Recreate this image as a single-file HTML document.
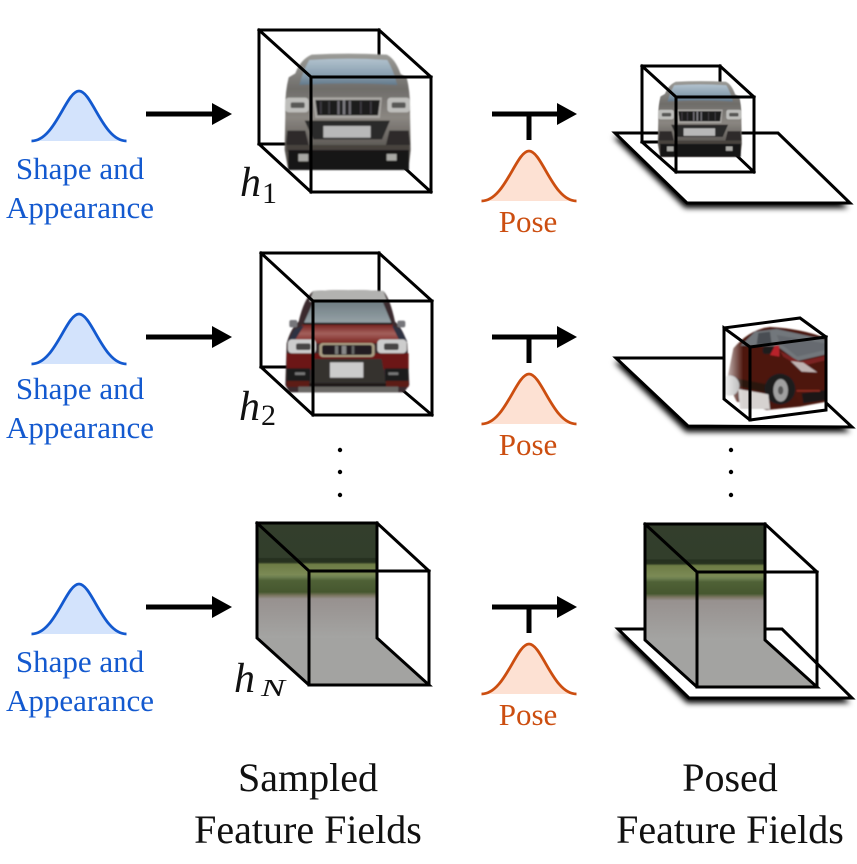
<!DOCTYPE html>
<html>
<head>
<meta charset="utf-8">
<style>
html,body{margin:0;padding:0;background:#fff;}
svg{display:block;}
text{font-family:"Liberation Serif",serif;}
.b{fill:#1359cf;font-size:31px;text-anchor:middle;}
.o{fill:#cc4e10;font-size:31px;text-anchor:middle;}
.k{fill:#111;font-size:40px;text-anchor:middle;}
.h{fill:#111;font-size:42px;font-style:italic;}
.s{fill:#111;font-size:30px;}
.l{fill:none;stroke:#000;stroke-width:3;stroke-linejoin:miter;stroke-linecap:square;}
</style>
</head>
<body>
<svg width="857" height="864" viewBox="0 0 857 864" xmlns="http://www.w3.org/2000/svg">
<defs>
<filter id="bl" x="-10%" y="-10%" width="120%" height="120%"><feGaussianBlur stdDeviation="2.6"/></filter>
<filter id="sh" x="-15%" y="-25%" width="130%" height="150%"><feGaussianBlur stdDeviation="3"/></filter>
<linearGradient id="gl1" x1="0" y1="0" x2="0" y2="1"><stop offset="0" stop-color="#b2c2ce"/><stop offset=".6" stop-color="#8aa0b0"/><stop offset="1" stop-color="#62788a"/></linearGradient>
<linearGradient id="bd1" x1="0" y1="0" x2="0" y2="1"><stop offset="0" stop-color="#9c9c98"/><stop offset=".3" stop-color="#6f6d6a"/><stop offset=".55" stop-color="#8a8681"/><stop offset=".8" stop-color="#5d5955"/><stop offset="1" stop-color="#4c4844"/></linearGradient>
<linearGradient id="gl2" x1="0" y1="0" x2="0" y2="1"><stop offset="0" stop-color="#6f7c82"/><stop offset="1" stop-color="#98a4a9"/></linearGradient>
<linearGradient id="hd2" x1="0" y1="0" x2="0" y2="1"><stop offset="0" stop-color="#701a18"/><stop offset=".5" stop-color="#a3605c"/><stop offset="1" stop-color="#7a2420"/></linearGradient>
<linearGradient id="fd" x1="0" y1="0" x2="1" y2="0"><stop offset="0" stop-color="#fff"/><stop offset="1" stop-color="#fff" stop-opacity="0"/></linearGradient>
<linearGradient id="bg" x1="0" y1="0" x2="0" y2="1">
<stop offset="0" stop-color="#333e2c"/><stop offset=".3" stop-color="#323e2b"/><stop offset=".31" stop-color="#25301f"/><stop offset=".34" stop-color="#27321f"/><stop offset=".36" stop-color="#6d7c45"/><stop offset=".45" stop-color="#7b8a55"/><stop offset=".47" stop-color="#6d7f50"/><stop offset=".5" stop-color="#4f6136"/><stop offset=".6" stop-color="#46572f"/><stop offset=".63" stop-color="#7a7560"/><stop offset=".66" stop-color="#97918f"/><stop offset="1" stop-color="#a4a4a2"/>
</linearGradient>
<clipPath id="cc"><polygon points="724,328 800,318 826,337 826,410 750,420 724,399"/></clipPath>

<g id="gb"><path d="M-47.5,0 C-24,0 -13,-50 0,-50 C13,-50 24,0 47.5,0 Z" fill="#d3e3fc"/><path d="M-47.5,0 C-24,0 -13,-50 0,-50 C13,-50 24,0 47.5,0" fill="none" stroke="#1359cf" stroke-width="2.8"/></g>
<g id="go"><path d="M-47.5,0 C-24,0 -13,-50 0,-50 C13,-50 24,0 47.5,0 Z" fill="#fde1d3"/><path d="M-47.5,0 C-24,0 -13,-50 0,-50 C13,-50 24,0 47.5,0" fill="none" stroke="#cc4e10" stroke-width="2.8"/></g>
<g id="ar"><rect x="146" y="-2.5" width="68" height="5"/><polygon points="212,-11 232,0 212,11"/></g>
<g id="ap"><rect x="492" y="-2.5" width="67" height="5"/><rect x="526.5" y="0" width="5" height="26"/><polygon points="557,-11 577,0 557,11"/></g>

<g id="car1" filter="url(#bl)">
<path d="M95,14 Q205,8 320,14 Q345,25 362,72 L380,82 Q392,130 390,190 L392,300 L385,360 L25,360 L14,300 L16,190 Q14,130 26,82 L46,70 Q62,28 95,14Z" fill="url(#bd1)"/>
<path d="M88,30 Q205,22 322,30 Q340,60 352,105 Q205,95 58,105 Q70,60 88,30Z" fill="url(#gl1)"/>
<rect x="16" y="143" width="70" height="44" rx="10" fill="#bebebb"/><rect x="32" y="157" width="42" height="17" rx="5" fill="#595856"/>
<rect x="322" y="143" width="68" height="44" rx="10" fill="#bebebb"/><rect x="335" y="157" width="42" height="17" rx="5" fill="#595856"/>
<polygon points="98,142 306,142 300,204 106,204" fill="#a8a6a2"/>
<polygon points="106,150 300,150 294,196 112,196" fill="#1c1a1d"/>
<rect x="120" y="154" width="5" height="38" fill="#3f3d42"/><rect x="145" y="154" width="5" height="38" fill="#3f3d42"/><rect x="172" y="152" width="7" height="42" fill="#6e6c72"/><rect x="188" y="150" width="8" height="44" fill="#7c7a80"/><rect x="206" y="152" width="7" height="42" fill="#6e6c72"/><rect x="240" y="154" width="5" height="38" fill="#3f3d42"/><rect x="270" y="154" width="5" height="38" fill="#3f3d42"/>
<polygon points="74,212 330,212 306,268 100,268" fill="#2c2a29"/>
<polygon points="22,242 76,242 86,285 18,285" fill="#2d2b29"/><polygon points="328,242 386,242 390,285 318,285" fill="#2d2b29"/>
<rect x="130" y="228" width="142" height="35" fill="#b8b8b8"/>
<rect x="20" y="285" width="368" height="20" fill="#47423e"/>
<rect x="25" y="300" width="362" height="60" fill="#151312"/>
<rect x="55" y="312" width="30" height="22" fill="#a8a8a4"/><rect x="320" y="312" width="30" height="20" fill="#a8a8a4"/>
</g>

<g id="car2" filter="url(#bl)">
<path d="M100,18 Q205,12 310,18 Q330,40 345,110 Q368,130 382,175 L388,300 L372,322 L28,322 L16,300 L20,175 Q32,130 56,110 Q72,40 100,18Z" fill="#3a2c2e"/>
<rect x="28" y="105" width="24" height="22" rx="6" fill="#76767a"/><rect x="352" y="107" width="24" height="20" rx="6" fill="#76767a"/>
<path d="M100,18 Q205,12 310,18 L322,50 L88,50Z" fill="#b2b2b0"/>
<polygon points="100,50 308,50 336,118 70,118" fill="url(#gl2)"/>
<polygon points="70,116 336,116 368,175 30,175" fill="url(#hd2)"/>
<rect x="70" y="113" width="266" height="6" fill="#1f1a1c"/>
<polygon points="44,132 72,122 42,170 24,170" fill="#2e3042"/><polygon points="336,122 362,132 382,170 360,170" fill="#2e3042"/>
<rect x="24" y="163" width="84" height="42" rx="12" fill="#cdcdcd"/><rect x="48" y="175" width="44" height="20" rx="6" fill="#474545"/>
<rect x="292" y="163" width="88" height="42" rx="12" fill="#cdcdcd"/><rect x="312" y="175" width="44" height="20" rx="6" fill="#474545"/>
<rect x="20" y="205" width="366" height="48" fill="#6c1512"/>
<rect x="118" y="174" width="166" height="42" rx="10" fill="#a89d83"/><rect x="126" y="180" width="150" height="30" rx="7" fill="#211e22"/>
<rect x="165" y="182" width="10" height="26" fill="#777"/><rect x="185" y="182" width="14" height="26" fill="#888"/><rect x="215" y="182" width="8" height="26" fill="#666"/>
<polygon points="100,222 305,222 318,295 88,295" fill="#36302f"/>
<rect x="150" y="232" width="100" height="46" fill="#cbcbcb"/>
<rect x="20" y="250" width="70" height="40" fill="#1f1c1c"/><rect x="315" y="250" width="70" height="40" fill="#1f1c1c"/>
<rect x="45" y="262" width="30" height="8" fill="#777"/><rect x="325" y="262" width="30" height="8" fill="#777"/>
<rect x="20" y="288" width="68" height="18" fill="#5d1a16"/><rect x="318" y="288" width="68" height="18" fill="#5d1a16"/>
<rect x="88" y="295" width="230" height="12" fill="#1b1818"/>
<rect x="55" y="305" width="300" height="16" fill="#6b6765"/>
</g>
</defs>

<rect width="857" height="864" fill="#fff"/>

<!-- Left column -->
<use href="#gb" x="79" y="141"/>
<text class="b" x="80" y="179">Shape and</text>
<text class="b" x="80" y="218">Appearance</text>
<use href="#ar" y="114"/>

<use href="#gb" x="79" y="364"/>
<text class="b" x="80" y="399">Shape and</text>
<text class="b" x="80" y="438">Appearance</text>
<use href="#ar" y="337"/>

<use href="#gb" x="79" y="634"/>
<text class="b" x="80" y="672">Shape and</text>
<text class="b" x="80" y="711">Appearance</text>
<use href="#ar" y="607"/>

<!-- Middle -->
<use href="#ap" y="114"/><use href="#go" x="529" y="201"/><text class="o" x="528" y="232">Pose</text>
<use href="#ap" y="337"/><use href="#go" x="529" y="424"/><text class="o" x="528" y="455">Pose</text>
<use href="#ap" y="607"/><use href="#go" x="529" y="694"/><text class="o" x="528" y="725">Pose</text>

<!-- Cube 1 -->
<path class="l" d="M259,144 V30 H379 V77 M259,144 H300 M431,192 L385,150"/>
<use href="#car1" transform="translate(280,50) scale(.3333)"/>
<path class="l" d="M259,30 L311,77 H431 V192 H311 V77 M379,30 L431,77 M259,144 L311,192"/>
<text class="h" x="240" y="196">h</text><text class="s" x="262" y="203">1</text>

<!-- Cube 2 -->
<path class="l" d="M261,367 V253 H379 V301 M261,367 H300 M432,415 L400,388"/>
<use href="#car2" transform="translate(280,285) scale(.3333)"/>
<path class="l" d="M261,253 L313,301 H432 V415 H313 V301 M379,253 L432,301 M261,367 L313,415"/>
<text class="h" x="239" y="420">h</text><text class="s" x="261" y="425">2</text>

<!-- Cube N -->
<rect x="257" y="523" width="120" height="115" fill="url(#bg)"/>
<polygon points="257,638 377,638 429,685 309,685" fill="#a3a3a1"/>
<path class="l" d="M257,523 H377 V638 L429,685 H309 L257,638 Z M257,523 L309,571 H429 V685 M309,571 V685 M377,523 L429,571"/>
<text class="h" x="234" y="692">h</text><text class="s" x="261" y="696" font-style="italic" style="font-size:24px" textLength="24" lengthAdjust="spacingAndGlyphs">N</text>

<!-- Posed 1 -->
<polygon points="613,137 776,137 848,208 685,208" fill="#000" filter="url(#sh)"/>
<polygon class="l" points="615,133 778,133 850,203 687,203" style="fill:#fff"/>
<path class="l" d="M642,142 V66 H720 V97 M642,142 H665 M754,172 L735,154"/>
<use href="#car1" transform="translate(654.7,78.7) scale(.2223,.2173)"/>
<path class="l" d="M642,66 L676,97 H754 V172 H676 V97 M720,66 L754,97 M642,142 L676,172"/>

<!-- Posed 2 -->
<polygon points="614,362 776,362 850,432 686,432" fill="#000" filter="url(#sh)"/>
<polygon class="l" points="616,358 778,358 852,427 688,426" style="fill:#fff"/>
<polygon points="724,328 800,318 826,337 826,410 750,420 724,399" fill="#fff"/>
<g clip-path="url(#cc)">
<g transform="translate(720,315) scale(.3333)">
<g filter="url(#bl)">
<path d="M40,100 Q90,42 150,36 Q240,40 320,70 L320,260 L240,275 L140,285 L50,260 L20,200 Z" fill="#4a1411"/>
<polygon points="62,92 105,50 170,42 316,74 318,118 232,138 172,94" fill="#72777b"/>
<polygon points="115,54 150,50 155,88 110,88" fill="#4a4e52"/>
<polygon points="170,60 316,85 316,105 232,125 180,85" fill="#666b70"/>
<polygon points="45,100 165,100 240,145 318,122 318,250 240,262 205,205 150,205 60,190" fill="#4e1411"/>
<polygon points="180,108 240,140 318,122 318,135 240,155 190,125" fill="#7a2420"/>
<polygon points="212,138 250,143 292,172 245,170" fill="#bfb2b1"/>
<polygon points="50,190 150,210 160,238 60,215" fill="#2c1210"/>
<rect x="128" y="95" width="35" height="22" rx="8" fill="#1b1a1c"/>
<polygon points="165,92 178,92 178,125 150,120" fill="#b8202a"/>
<circle cx="180" cy="222" r="46" fill="#1e1b1b"/>
<ellipse cx="182" cy="226" rx="22" ry="34" fill="#a0a0a0"/><ellipse cx="182" cy="226" rx="8" ry="13" fill="#575757"/>
<polygon points="245,235 318,225 318,255 250,265" fill="#1f1414"/>
<rect x="230" y="225" width="70" height="5" fill="#8f2a20"/>
<polygon points="55,222 145,238 150,282 60,282" fill="#d6d2d0"/>
<circle cx="28" cy="212" r="30" fill="#b2b2b2"/>
</g>
<rect x="0" y="20" width="70" height="280" fill="url(#fd)"/>
</g>
</g>
<path class="l" d="M724,328 L750,347 L826,337 V410 L750,420 L724,399 Z M724,328 L800,318 L826,337 M750,347 V420"/>

<!-- Posed N -->
<polygon points="616,633 780,633 850,703 687,703" fill="#000" filter="url(#sh)"/>
<polygon class="l" points="618,629 782,629 852,698 689,698" style="fill:#fff"/>
<rect x="645" y="524" width="120" height="116" fill="url(#bg)"/>
<polygon points="645,640 765,640 817,687 697,687" fill="#a3a3a1"/>
<path class="l" d="M645,524 H765 V640 L817,687 H697 L645,640 Z M645,524 L697,572 H817 V687 M697,572 V687 M765,524 L817,572"/>

<!-- Dots -->
<circle cx="340" cy="450" r="2.2"/><circle cx="340" cy="472" r="2.2"/><circle cx="340" cy="495" r="2.2"/>
<circle cx="731" cy="450" r="2.2"/><circle cx="731" cy="472" r="2.2"/><circle cx="731" cy="495" r="2.2"/>

<!-- Captions -->
<text class="k" x="308" y="791">Sampled</text>
<text class="k" x="308" y="843">Feature Fields</text>
<text class="k" x="730" y="791">Posed</text>
<text class="k" x="730" y="843">Feature Fields</text>
</svg>
</body>
</html>
